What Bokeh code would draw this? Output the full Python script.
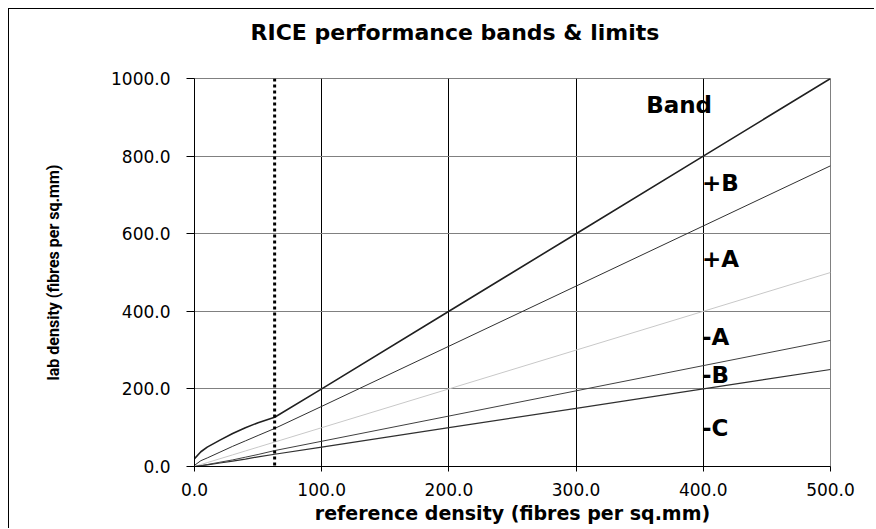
from bokeh.plotting import figure
from bokeh.models import Span, Title, PrintfTickFormatter, FixedTicker, Range1d, ColumnDataSource
from bokeh.core.properties import value
from bokeh.embed import file_html
from bokeh.resources import INLINE

# ---- data ----
ref_x   = [0, 5, 10, 20, 30, 40, 50, 63, 100, 200, 300, 400, 500]
plus_b  = [20, 38, 50, 68, 85, 100, 113, 127, 200, 400, 600, 800, 1000]
plus_a  = [3, 15, 22, 37, 52, 66, 80, 98, 155, 310, 465, 620, 775]
equal   = [0, 5, 10, 20, 30, 40, 50, 63, 100, 200, 300, 400, 500]
minus_a = [0, 2, 5, 11, 17, 24, 31, 41, 65, 130, 195, 260, 325]
minus_b = [0, 2, 4, 9, 14, 19, 25, 31.5, 50, 100, 150, 200, 250]
limit_x = 63

band_labels = ["+B", "+A", "-A", "-B", "-C"]
band_label_y = [731, 535, 334, 236, 98.5]
band_label_x = 399
band_title_y = 932

x_ticks = [0, 100, 200, 300, 400, 500]
y_ticks = [0, 200, 400, 600, 800, 1000]

TXT = "DejaVu Sans"

p = figure(width=866, height=520, output_backend="svg", toolbar_location=None,
           title=None,
           x_range=Range1d(0, 500), y_range=Range1d(0, 1000),
           min_border_left=185, min_border_right=45, min_border_top=69, min_border_bottom=63)
p.styles = {"margin-left": "8px", "margin-top": "8px",
            "border-left": "1px solid black", "border-top": "1px solid black"}
p.background_fill_color = "white"
p.border_fill_color = "white"
p.outline_line_color = "#808080"
p.outline_line_width = 1

# spacer between frame and chart title, then the title itself
p.add_layout(Title(text=" ", text_font_size="1px", standoff=31), "above")
p.add_layout(Title(text="RICE performance bands & limits", align="left", offset=56,
                   text_font=TXT, text_font_size="22px", text_font_style="bold",
                   text_color="black", standoff=0), "above")

# axes
for ax in (p.xaxis[0], p.yaxis[0]):
    ax.axis_line_color = "black"
    ax.axis_line_width = 1
    ax.major_tick_line_color = "black"
    ax.major_tick_in = 0
    ax.minor_tick_line_color = None
    ax.major_label_text_font = TXT
    ax.major_label_text_font_size = "17px"
    ax.major_label_text_color = "black"
    ax.formatter = PrintfTickFormatter(format="%.1f")

p.xaxis[0].ticker = FixedTicker(ticks=x_ticks)
p.yaxis[0].ticker = FixedTicker(ticks=y_ticks)
p.xaxis[0].major_tick_out = 5
p.yaxis[0].major_tick_out = 8
p.xaxis[0].major_label_standoff = 11
p.yaxis[0].major_label_standoff = 16

p.xaxis[0].axis_label = "reference density (fibres per sq.mm)"
p.xaxis[0].axis_label_text_font = TXT
p.xaxis[0].axis_label_text_font_size = "19px"
p.xaxis[0].axis_label_text_font_style = "bold"
p.xaxis[0].axis_label_text_color = "black"
p.xaxis[0].axis_label_standoff = 3

p.yaxis[0].axis_label = "lab density (fibres per sq.mm)"
p.yaxis[0].axis_label_text_font = "Roboto"
p.yaxis[0].axis_label_text_font_size = "16px"
p.yaxis[0].axis_label_text_font_style = "bold"
p.yaxis[0].axis_label_text_color = "black"
p.yaxis[0].axis_label_standoff = 45

# grids
p.xgrid.ticker = FixedTicker(ticks=[100, 200, 300, 400])
p.xgrid.grid_line_color = "black"
p.xgrid.grid_line_width = 1
p.ygrid.ticker = FixedTicker(ticks=[200, 400, 600, 800])
p.ygrid.grid_line_color = "#808080"
p.ygrid.grid_line_width = 1

# band lines
src = ColumnDataSource(dict(x=ref_x, pb=plus_b, pa=plus_a, eq=equal, ma=minus_a, mb=minus_b))
p.line("x", "eq", source=src, line_color="#c8c8c8", line_width=1)
p.line("x", "mb", source=src, line_color="#303030", line_width=1.2)
p.line("x", "ma", source=src, line_color="#404040", line_width=1)
p.line("x", "pa", source=src, line_color="#303030", line_width=1)
p.line("x", "pb", source=src, line_color="#202020", line_width=1.6)

p.add_layout(Span(location=limit_x, dimension="height", line_color="black",
                  line_width=3, line_dash="3 3"))

# band labels
p.text(x=[band_label_x] * len(band_labels), y=band_label_y, text=band_labels,
       text_font=value(TXT), text_font_size="23px", text_font_style="bold",
       text_align="left", text_baseline="alphabetic", text_color="black")
p.text(x=[381], y=[band_title_y], text=["Band"],
       text_font=value(TXT), text_font_size="23px", text_font_style="bold",
       text_align="center", text_baseline="alphabetic", text_color="black")

open("out.html", "w").write(file_html(p, INLINE))
